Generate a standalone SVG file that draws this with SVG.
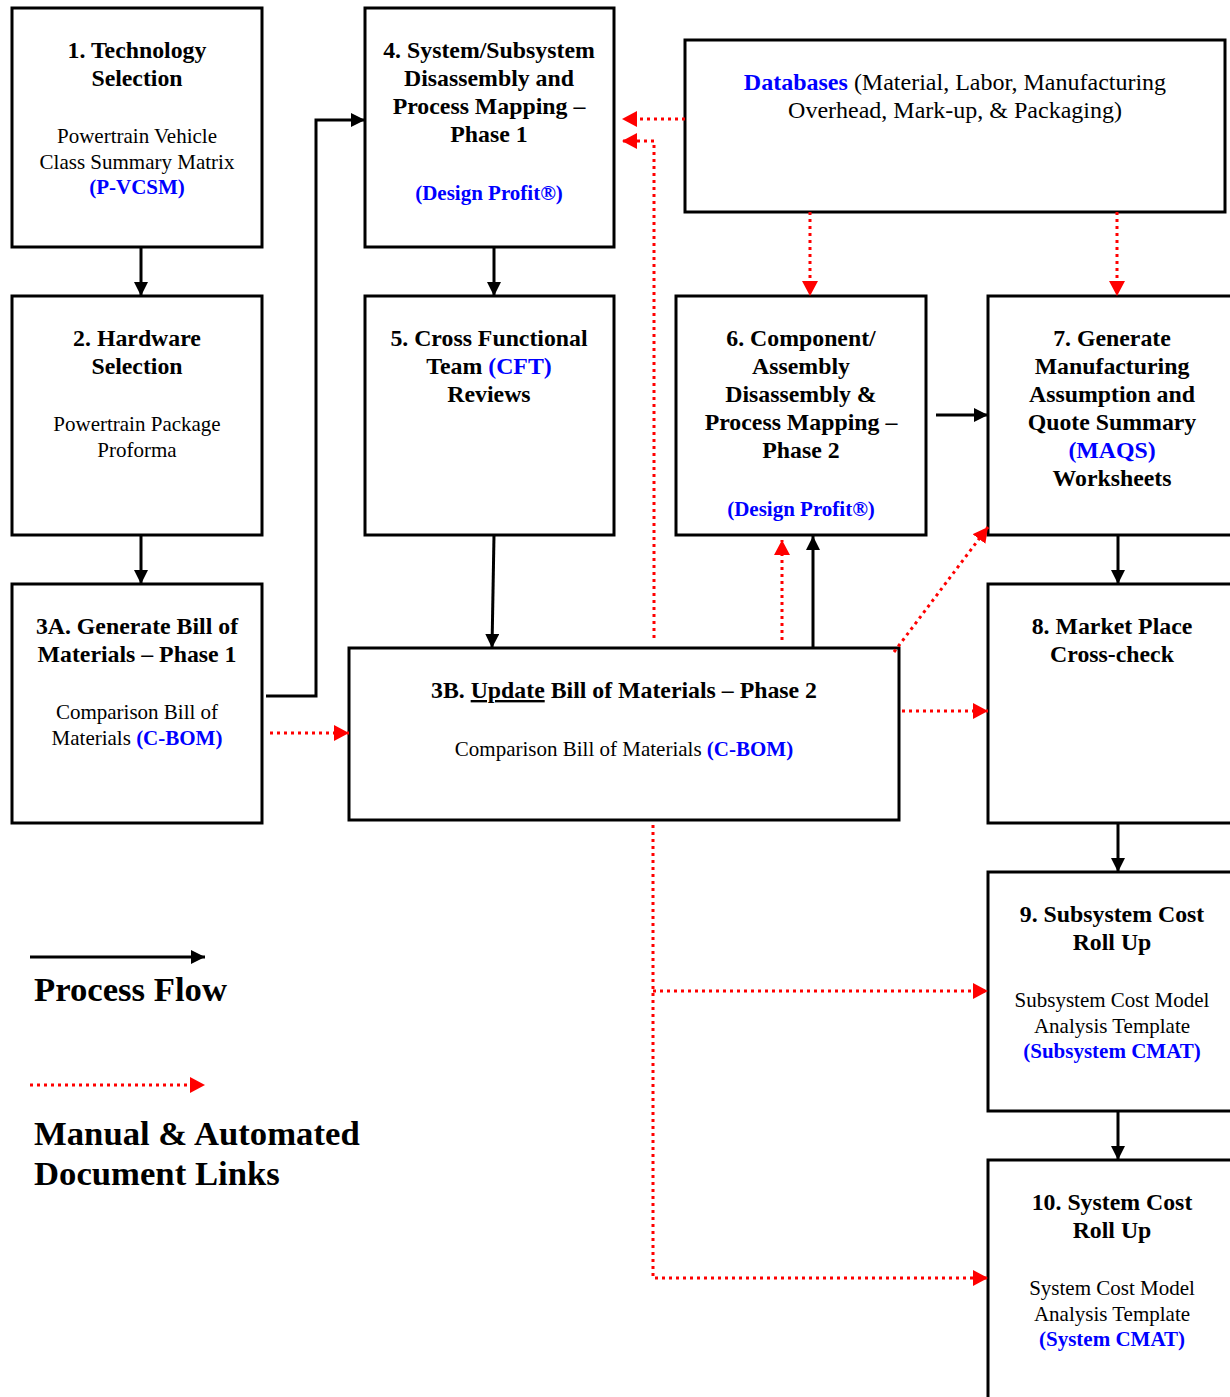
<svg xmlns="http://www.w3.org/2000/svg" width="1230" height="1397" viewBox="0 0 1230 1397">
<style>
.box{fill:#fff;stroke:#000;stroke-width:3}
text{font-family:"Liberation Serif","Times New Roman",serif;text-anchor:middle;fill:#000}
.t{font-weight:bold;font-size:23.8px}
.s{font-size:21px}
.b{fill:#0000ff;font-weight:bold}
.flow{fill:none;stroke:#000;stroke-width:3}
.link{fill:none;stroke:#ff0000;stroke-width:3;stroke-dasharray:3 4}
.leg{font-weight:bold;font-size:34.7px;text-anchor:start}
</style>
<defs>
<marker id="ab" markerUnits="userSpaceOnUse" markerWidth="16" markerHeight="16" refX="14" refY="7" orient="auto"><path d="M0,0 L14,7 L0,14 Z" fill="#000"/></marker>
<marker id="ar" markerUnits="userSpaceOnUse" markerWidth="18" markerHeight="18" refX="15" refY="8" orient="auto"><path d="M0,0 L15,8 L0,16 Z" fill="#ff0000"/></marker>
</defs>

<g id="n1"><rect class="box" x="12" y="8" width="250" height="239"/>
<text class="t" x="137" y="58">1. Technology</text><text class="t" x="137" y="86">Selection</text>
<text class="s" x="137" y="143">Powertrain Vehicle</text><text class="s" x="137" y="169">Class Summary Matrix</text><text class="s b" x="137" y="194">(P-VCSM)</text></g>

<g id="n2"><rect class="box" x="12" y="296" width="250" height="239"/>
<text class="t" x="137" y="346">2. Hardware</text><text class="t" x="137" y="374">Selection</text>
<text class="s" x="137" y="431">Powertrain Package</text><text class="s" x="137" y="457">Proforma</text></g>

<g id="n3a"><rect class="box" x="12" y="584" width="250" height="239"/>
<text class="t" x="137" y="634">3A. Generate Bill of</text><text class="t" x="137" y="662">Materials – Phase 1</text>
<text class="s" x="137" y="719">Comparison Bill of</text><text class="s" x="137" y="745">Materials <tspan class="b">(C-BOM)</tspan></text></g>

<g id="n4"><rect class="box" x="365" y="8" width="249" height="239"/>
<text class="t" x="489" y="58">4. System/Subsystem</text><text class="t" x="489" y="86">Disassembly and</text>
<text class="t" x="489" y="114">Process Mapping –</text><text class="t" x="489" y="142">Phase 1</text>
<text class="s b" x="489" y="200">(Design Profit®)</text></g>

<g id="n5"><rect class="box" x="365" y="296" width="249" height="239"/>
<text class="t" x="489" y="346">5. Cross Functional</text><text class="t" x="489" y="374">Team <tspan class="b">(CFT)</tspan></text>
<text class="t" x="489" y="402">Reviews</text></g>

<g id="db"><rect class="box" x="685" y="40" width="540" height="172"/>
<text x="955" y="90" style="font-size:24px"><tspan class="b">Databases</tspan> (Material, Labor, Manufacturing</text>
<text x="955" y="118" style="font-size:24px">Overhead, Mark-up, &amp; Packaging)</text></g>

<g id="n6"><rect class="box" x="676" y="296" width="250" height="239"/>
<text class="t" x="801" y="346">6. Component/</text><text class="t" x="801" y="374">Assembly</text>
<text class="t" x="801" y="402">Disassembly &amp;</text><text class="t" x="801" y="430">Process Mapping –</text>
<text class="t" x="801" y="458">Phase 2</text><text class="s b" x="801" y="516">(Design Profit®)</text></g>

<g id="n7"><rect class="box" x="988" y="296" width="250" height="239"/>
<text class="t" x="1112" y="346">7. Generate</text><text class="t" x="1112" y="374">Manufacturing</text>
<text class="t" x="1112" y="402">Assumption and</text><text class="t" x="1112" y="430">Quote Summary</text>
<text class="t b" x="1112" y="458">(MAQS)</text><text class="t" x="1112" y="486">Worksheets</text></g>

<g id="n3b"><rect class="box" x="349" y="648" width="550" height="172"/>
<text class="t" x="624" y="698">3B. <tspan text-decoration="underline">Update</tspan> Bill of Materials – Phase 2</text>
<text class="s" x="624" y="756">Comparison Bill of Materials <tspan class="b">(C-BOM)</tspan></text></g>

<g id="n8"><rect class="box" x="988" y="584" width="250" height="239"/>
<text class="t" x="1112" y="634">8. Market Place</text><text class="t" x="1112" y="662">Cross-check</text></g>

<g id="n9"><rect class="box" x="988" y="872" width="250" height="239"/>
<text class="t" x="1112" y="922">9. Subsystem Cost</text><text class="t" x="1112" y="950">Roll Up</text>
<text class="s" x="1112" y="1007">Subsystem Cost Model</text><text class="s" x="1112" y="1033">Analysis Template</text>
<text class="s b" x="1112" y="1058">(Subsystem CMAT)</text></g>

<g id="n10"><rect class="box" x="988" y="1160" width="250" height="260"/>
<text class="t" x="1112" y="1210">10. System Cost</text><text class="t" x="1112" y="1238">Roll Up</text>
<text class="s" x="1112" y="1295">System Cost Model</text><text class="s" x="1112" y="1321">Analysis Template</text>
<text class="s b" x="1112" y="1346">(System CMAT)</text></g>

<g id="connectors">
<path class="flow" d="M141,247 V296" marker-end="url(#ab)"/>
<path class="flow" d="M141,535 V584" marker-end="url(#ab)"/>
<path class="flow" d="M494,247 V296" marker-end="url(#ab)"/>
<path class="flow" d="M494,535 L492,648" marker-end="url(#ab)"/>
<path class="flow" d="M266,696 H316 V120 H365" marker-end="url(#ab)"/>
<path class="flow" d="M936,415 H988" marker-end="url(#ab)"/>
<path class="flow" d="M813,648 V536" marker-end="url(#ab)"/>
<path class="flow" d="M1118,535 V584" marker-end="url(#ab)"/>
<path class="flow" d="M1118,823 V872" marker-end="url(#ab)"/>
<path class="flow" d="M1118,1111 V1160" marker-end="url(#ab)"/>

<path class="link" d="M685,119 H622" marker-end="url(#ar)"/>
<path class="link" d="M654,638 V141 H622" marker-end="url(#ar)"/>
<path class="link" d="M810,212 V296" marker-end="url(#ar)"/>
<path class="link" d="M1117,212 V296" marker-end="url(#ar)"/>
<path class="link" d="M782,640 V540" marker-end="url(#ar)"/>
<path class="link" d="M894,652 L988,527" marker-end="url(#ar)"/>
<path class="link" d="M270,733 H349" marker-end="url(#ar)"/>
<path class="link" d="M902,711 H988" marker-end="url(#ar)"/>
<path class="link" d="M653,825 V1278 H988" marker-end="url(#ar)"/>
<path class="link" d="M653,991 H988" marker-end="url(#ar)"/>
</g>

<g id="legend">
<path class="flow" d="M30,957 H205" marker-end="url(#ab)"/>
<text class="leg" x="34" y="1001">Process Flow</text>
<path class="link" d="M30,1085 H205" marker-end="url(#ar)"/>
<text class="leg" x="34" y="1145">Manual &amp; Automated</text>
<text class="leg" x="34" y="1185">Document Links</text>
</g>
</svg>
